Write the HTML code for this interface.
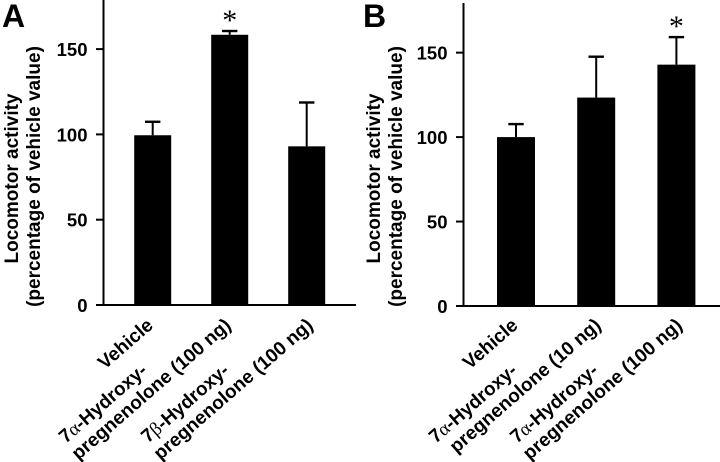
<!DOCTYPE html>
<html>
<head>
<meta charset="utf-8">
<style>
html,body{margin:0;padding:0;background:#fff;}
svg{display:block;}
text{font-family:"Liberation Sans",sans-serif;fill:#000;}
.b{font-weight:bold;}
.g{font-family:"Liberation Serif",serif;font-weight:normal;}
</style>
</head>
<body>
<svg id="fig" width="720" height="462" viewBox="0 0 720 462" xmlns="http://www.w3.org/2000/svg"></svg>
<script>
var tickValues = [0, 50, 100, 150];
var tickLabels = ["0", "50", "100", "150"];
var yTitleLine1 = "Locomotor activity";
var yTitleLine2 = "(percentage of vehicle value)";

var panelAValues = [99.5, 158.4, 93];
var panelAErrors = [107.4, 160.6, 118.7];
var panelAStars = [false, true, false];
var panelALine1 = [["Vehicle"], ["7", "α", "-Hydroxy-"], ["7", "β", "-Hydroxy-"]];
var panelALine2 = ["", "pregnenolone (100 ng)", "pregnenolone (100 ng)"];

var panelBValues = [100, 123.4, 142.9];
var panelBErrors = [107.7, 147.6, 159.2];
var panelBStars = [false, false, true];
var panelBLine1 = [["Vehicle"], ["7", "α", "-Hydroxy-"], ["7", "α", "-Hydroxy-"]];
var panelBLine2 = ["", "pregnenolone (10 ng)", "pregnenolone (100 ng)"];

var NS = "http://www.w3.org/2000/svg";
var fig = document.getElementById("fig");

function make(tag, attrs, parent) {
  var el = document.createElementNS(NS, tag);
  for (var k in attrs) el.setAttribute(k, attrs[k]);
  parent.appendChild(el);
  return el;
}

function drawLabelRuns(textEl, runs) {
  runs.forEach(function (run, i) {
    var span = document.createElementNS(NS, "tspan");
    span.textContent = run;
    if (runs.length === 3 && i === 1) span.setAttribute("class", "g");
    textEl.appendChild(span);
  });
}

function drawPanel(cfg) {
  var g = make("g", {}, fig);
  
  

  function yScale(v) { return cfg.y0 - v * cfg.pxPerUnit; }

  var letter = make("text", {x: cfg.letterX, y: 27, "font-size": 32, "class": "b"}, g);
  letter.textContent = cfg.letter;
  
  

  var yAxis = make("line", {x1: cfg.axisX, x2: cfg.axisX, y1: cfg.axisTop, y2: cfg.y0 + 1, stroke: "#000", "stroke-width": 2}, g);
  
  

  var xAxis = make("line", {x1: cfg.axisX - 7.5, x2: cfg.axisEnd, y1: cfg.y0, y2: cfg.y0, stroke: "#000", "stroke-width": 2}, g);
  
  

  tickValues.forEach(function (v, i) {
    var y = yScale(v);
    var tick = make("line", {x1: cfg.axisX - 7.5, x2: cfg.axisX, y1: y, y2: y, stroke: "#000", "stroke-width": 2}, g);
    
    
    var label = make("text", {x: cfg.axisX - 16, y: y + 7, "font-size": 18.5, "class": "b", "text-anchor": "end"}, g);
    label.textContent = tickLabels[i];
    
    
  });

  var t1 = make("text", {transform: "translate(" + cfg.titleX + "," + (cfg.titleMid + 2) + ") rotate(-90)", "font-size": cfg.titleSize, "class": "b", "text-anchor": "middle"}, g);
  t1.textContent = yTitleLine1;
  
  
  var t2 = make("text", {transform: "translate(" + (cfg.titleX + 22) + "," + cfg.titleMid + ") rotate(-90)", "font-size": cfg.titleSize, "class": "b", "text-anchor": "middle"}, g);
  t2.textContent = yTitleLine2;
  
  

  cfg.values.forEach(function (v, i) {
    var cx = cfg.barStart + i * cfg.barStep;
    var top = yScale(v);
    var errTop = yScale(cfg.errors[i]);
    var halfW = cfg.barWidth / 2;

    var stem = make("line", {x1: cx, x2: cx, y1: errTop, y2: top, stroke: "#000", "stroke-width": 2}, g);
    
    
    var cap = make("line", {x1: cx - 7.7, x2: cx + 7.7, y1: errTop, y2: errTop, stroke: "#000", "stroke-width": 2.4}, g);
    
    

    var bar = make("rect", {x: cx - halfW, y: top, width: cfg.barWidth, height: cfg.y0 - top, fill: "#000"}, g);
    
    

    if (cfg.stars[i]) {
      var star = make("text", {x: cx, y: errTop - 1, "font-size": 30, "text-anchor": "middle"}, g);
      star.textContent = "*";
      star.style.fontFamily = '"Liberation Serif", serif';
      
      
    }

    var ax = cx + cfg.labelDx + (i === 0 ? 0 : i === 1 ? cfg.labelShift1 : cfg.labelShift2);
    var ay = cfg.y0 + cfg.labelDy;
    var lg = make("g", {transform: "translate(" + ax + "," + ay + ") rotate(-41)"}, g);
    
    
    if (cfg.line2[i]) {
      var l1 = make("text", {x: -93, y: -21, "font-size": cfg.catSize, "class": "b", "text-anchor": "end"}, lg);
      drawLabelRuns(l1, cfg.line1[i]);
      var l2 = make("text", {x: 0, y: 0, "font-size": cfg.catSize, "class": "b", "text-anchor": "end"}, lg);
      l2.textContent = cfg.line2[i];
    } else {
      var l0 = make("text", {x: 0, y: 0, "font-size": cfg.catSize, "class": "b", "text-anchor": "end"}, lg);
      drawLabelRuns(l0, cfg.line1[i]);
    }
  });
}

drawPanel({
  name: "panel-a", letter: "A", letterX: 2,
  axisX: 103.5, axisTop: 0, axisEnd: 356, y0: 305, pxPerUnit: 1.706,
  barStart: 152.7, barStep: 77, barWidth: 37,
  titleX: 18, titleMid: 176.5, titleSize: 19,
  catSize: 19, labelDx: 1.5, labelDy: 22, labelShift1: 1, labelShift2: 6,
  values: panelAValues, errors: panelAErrors, stars: panelAStars,
  line1: panelALine1, line2: panelALine2
});
drawPanel({
  name: "panel-b", letter: "B", letterX: 363,
  axisX: 463.5, axisTop: 3, axisEnd: 720, y0: 306, pxPerUnit: 1.689,
  barStart: 516, barStep: 80.2, barWidth: 38,
  titleX: 380, titleMid: 176.5, titleSize: 19,
  catSize: 19, labelDx: 3, labelDy: 21, labelShift1: 3, labelShift2: 4,
  values: panelBValues, errors: panelBErrors, stars: panelBStars,
  line1: panelBLine1, line2: panelBLine2
});
</script>
</body>
</html>
